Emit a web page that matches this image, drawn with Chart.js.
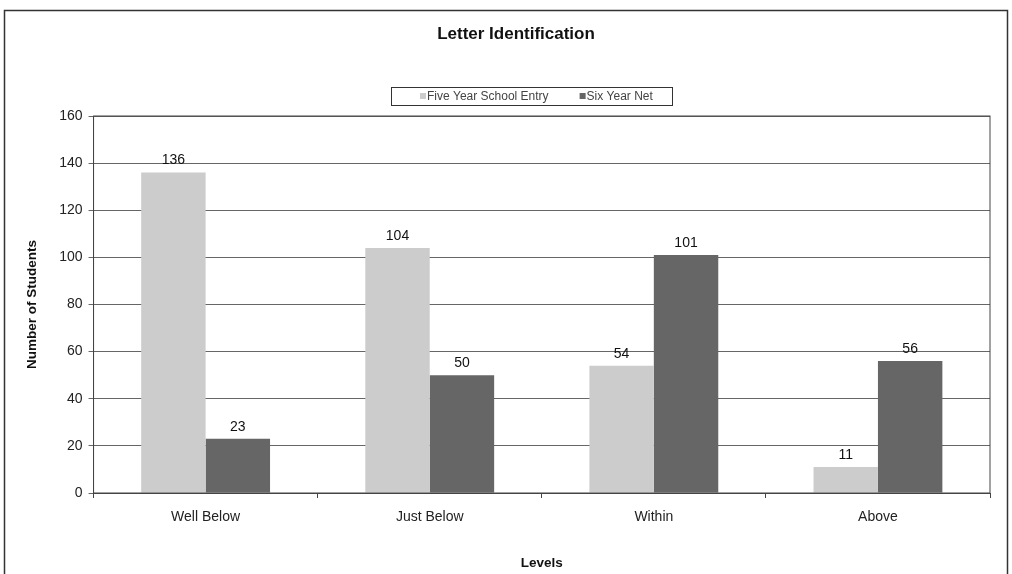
<!DOCTYPE html>
<html>
<head>
<meta charset="utf-8">
<script src="https://cdn.jsdelivr.net/npm/chart.js@4.4.1/dist/chart.umd.min.js"></script>
<style>
  html, body { margin: 0; padding: 0; background: #fff; }
  #wrap { width: 1012px; height: 574px; }
</style>
</head>
<body>
<div id="wrap"><canvas id="grafica"></canvas></div>
<script>
const niveles = ["Well Below", "Just Below", "Within", "Above"];
const cincoAnios = [136, 104, 54, 11];
const seisAnios = [23, 50, 101, 56];
const ticksY = [0, 20, 40, 60, 80, 100, 120, 140, 160];
const titulo = "Letter Identification";

const fuente = "'Liberation Sans', Arial, sans-serif";

// Marco exterior, titulo, leyenda en caja y borde del area de datos
const marco = {
    id: "marco",
    beforeDraw(chart) {
        const ctx = chart.ctx;
        ctx.save();
        ctx.fillStyle = "#fff";
        ctx.fillRect(0, 0, chart.width, chart.height);
        ctx.strokeStyle = "#333";
        ctx.lineWidth = 1.5;
        ctx.strokeRect(4.5, 10.5, chart.width - 9, chart.height + 20);
        ctx.restore();
    },
    afterDraw(chart) {
        const ctx = chart.ctx;
        ctx.save();
        // titulo
        ctx.font = "bold 17px " + fuente;
        ctx.fillStyle = "#111";
        ctx.textAlign = "center";
        ctx.textBaseline = "middle";
        ctx.fillText(titulo, 516, 34);
        // caja de la leyenda
        ctx.strokeStyle = "#333";
        ctx.lineWidth = 1;
        ctx.strokeRect(391.5, 87.5, 281, 18);
        ctx.font = "12px " + fuente;
        ctx.textAlign = "left";
        let x = 420;
        chart.data.datasets.forEach(ds => {
            ctx.fillStyle = ds.backgroundColor;
            ctx.fillRect(x, 93, 6, 6);
            ctx.fillStyle = "#444";
            ctx.fillText(ds.label, x + 7, 96.5);
            x += 7 + ctx.measureText(ds.label).width + 31;
        });
        // borde del area de datos
        const a = chart.chartArea;
        ctx.strokeStyle = "#444";
        ctx.strokeRect(a.left, a.top, a.right - a.left, a.bottom - a.top);
        ctx.restore();
    }
};

// Etiquetas de valores arriba de las barras
const etiquetas = {
    id: "etiquetas",
    afterDatasetsDraw(chart) {
        const ctx = chart.ctx;
        ctx.save();
        ctx.font = "14px " + fuente;
        ctx.fillStyle = "#111";
        ctx.textAlign = "center";
        ctx.textBaseline = "bottom";
        chart.data.datasets.forEach((ds, i) => {
            chart.getDatasetMeta(i).data.forEach((bar, j) => {
                ctx.fillText(ds.data[j], bar.x, bar.y - 5);
            });
        });
        ctx.restore();
    }
};

new Chart(document.getElementById("grafica"), {
    type: "bar",
    data: {
        labels: niveles,
        datasets: [
            {
                label: "Five Year School Entry",
                data: cincoAnios,
                backgroundColor: "#cccccc",
                categoryPercentage: 0.575,
                barPercentage: 1
            },
            {
                label: "Six Year Net",
                data: seisAnios,
                backgroundColor: "#666666",
                categoryPercentage: 0.575,
                barPercentage: 1
            }
        ]
    },
    options: {
        responsive: true,
        maintainAspectRatio: false,
        animation: false,
        layout: { padding: { left: 18, right: 22, top: 116, bottom: 3 } },
        plugins: {
            title: { display: false },
            legend: { display: false },
            tooltip: { enabled: false }
        },
        scales: {
            x: {
                grid: {
                    display: true,
                    drawOnChartArea: false,
                    drawTicks: true,
                    tickLength: 5,
                    color: "#444",
                    offset: true
                },
                border: { color: "#444" },
                ticks: {
                    font: { family: fuente, size: 14 },
                    color: "#222",
                    padding: 11
                },
                title: {
                    display: true,
                    text: "Levels",
                    font: { family: fuente, size: 13.5, weight: "bold" },
                    color: "#111",
                    padding: { top: 18, bottom: 0 }
                }
            },
            y: {
                min: 0,
                max: 160,
                afterBuildTicks(axis) {
                    axis.ticks = ticksY.map(v => ({ value: v }));
                },
                grid: {
                    color: "#666",
                    lineWidth: 1,
                    tickLength: 5
                },
                border: { color: "#444" },
                ticks: {
                    font: { family: fuente, size: 14 },
                    color: "#222",
                    padding: 6
                },
                title: {
                    display: true,
                    text: "Number of Students",
                    font: { family: fuente, size: 13.5, weight: "bold" },
                    color: "#111",
                    padding: { top: 6, bottom: 13 }
                }
            }
        }
    },
    plugins: [marco, etiquetas]
});
</script>
</body>
</html>
